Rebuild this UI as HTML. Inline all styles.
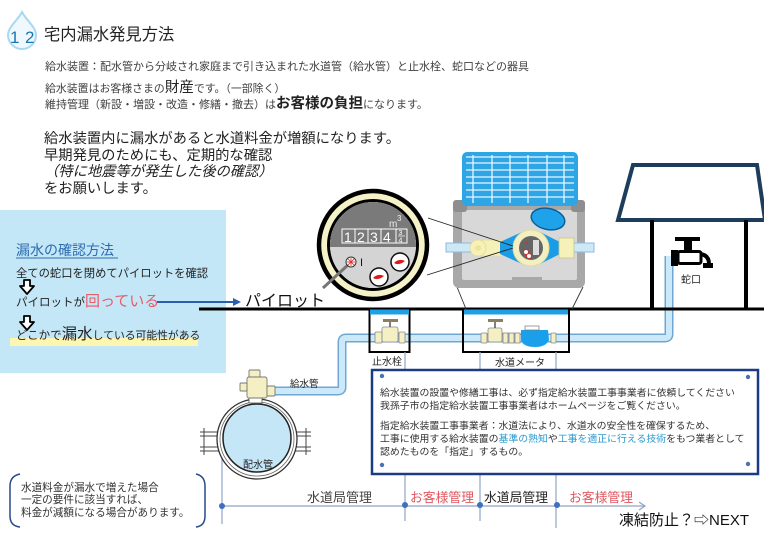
<!DOCTYPE html>
<html><head><meta charset="utf-8">
<style>
html,body{margin:0;padding:0;background:#fff;}
svg{display:block;}
text{font-family:"Liberation Sans","Noto Sans CJK JP",sans-serif;}
</style></head><body>
<svg width="764" height="540" viewBox="0 0 764 540" xmlns="http://www.w3.org/2000/svg">
<rect width="764" height="540" fill="#fff"/>

<!-- title -->
<path d="M22 12 C 18 20, 8 27, 8 35 A 14 14 0 0 0 36 35 C 36 27, 26 20, 22 12 Z" fill="#eef8fd" stroke="#a9d9f2" stroke-width="2"/>
<text x="10" y="43" font-size="17" fill="#1a78b0">1</text>
<text x="25" y="43" font-size="17" fill="#1a78b0">2</text>
<text x="44" y="40" font-size="16.3" fill="#222">宅内漏水発見方法</text>

<text x="45" y="70" font-size="11" fill="#404040">給水装置：配水管から分岐され家庭まで引き込まれた水道管（給水管）と止水栓、蛇口などの器具</text>
<text x="45" y="92" font-size="10.9" fill="#404040">給水装置はお客様さまの<tspan font-size="14.5" fill="#222">財産</tspan>です。（一部除く）</text>
<text x="45" y="108" font-size="11" fill="#404040">維持管理（新設・増設・改造・修繕・撤去）は<tspan font-size="14.5" font-weight="bold" fill="#222">お客様の負担</tspan>になります。</text>

<text x="44" y="143" font-size="14.3" fill="#222">給水装置内に漏水があると水道料金が増額になります。</text>
<text x="44" y="160" font-size="14.3" fill="#222">早期発見のためにも、定期的な確認</text>
<text x="44" y="176" font-size="14.3" fill="#222" font-style="italic">（特に地震等が発生した後の確認）</text>
<text x="44" y="193" font-size="14.3" fill="#222">をお願いします。</text>

<!-- blue box -->
<rect x="0" y="210" width="226" height="163" fill="#c4e7f8"/>
<text x="16" y="255" font-size="14" fill="#2b6cb0">漏水の確認方法</text>
<line x1="16" y1="258" x2="118" y2="258" stroke="#2b6cb0" stroke-width="1"/>
<text x="16" y="277" font-size="11.3" fill="#222">全ての蛇口を閉めてパイロットを確認</text>
<polygon points="24,280 30,280 30,286 34,286 27,294 20,286 24,286" fill="#fff" stroke="#000" stroke-width="1.8" stroke-linejoin="round"/>
<text x="16" y="306" font-size="11.5" fill="#222">パイロットが<tspan font-size="15" fill="#e85c68">回っている</tspan></text>
<polygon points="24,316 30,316 30,322 34,322 27,330 20,322 24,322" fill="#fff" stroke="#000" stroke-width="1.8" stroke-linejoin="round"/>
<rect x="10" y="338" width="188" height="8" fill="#fdf6b0"/>
<text x="16" y="339" font-size="11.5" fill="#222">どこかで<tspan font-size="15.5">漏水</tspan><tspan font-size="10.8">している可能性がある</tspan></text>

<!-- arrow to パイロット -->
<line x1="157" y1="302" x2="234" y2="302" stroke="#2a5fb0" stroke-width="2"/>
<polygon points="233,298 241,302 233,306" fill="#2a5fb0"/>
<text x="245" y="306" font-size="16" fill="#111">パイロット</text>

<!-- house -->
<polygon points="633,165 757,165 765,220 618,220" fill="#fff" stroke="#1c3d5c" stroke-width="4" stroke-linejoin="miter"/>
<line x1="652" y1="220" x2="652" y2="309" stroke="#000" stroke-width="4"/>
<line x1="746" y1="220" x2="746" y2="309" stroke="#000" stroke-width="4"/>

<!-- pipes -->
<path d="M669 256 L669 334 Q669 338 665 338 L346 338 Q342 338 342 342 L342 387 Q342 391 338 391 L270 391" fill="none" stroke="#6fa7d4" stroke-width="9" stroke-linejoin="round"/>
<path d="M669 256 L669 334 Q669 338 665 338 L346 338 Q342 338 342 342 L342 387 Q342 391 338 391 L270 391" fill="none" stroke="#cbe9f8" stroke-width="6" stroke-linejoin="round"/>

<!-- faucet -->
<rect x="675" y="237" width="25" height="4" fill="#000"/>
<rect x="684" y="241" width="8" height="10" fill="#000"/>
<rect x="671" y="250" width="7" height="16" fill="#000"/>
<rect x="678" y="251.5" width="23" height="12" rx="2" fill="#fff" stroke="#000" stroke-width="3"/>
<path d="M700 254 Q709 255 709 264" fill="none" stroke="#000" stroke-width="4"/>
<rect x="703" y="263" width="10" height="5" fill="#000"/>
<text x="681" y="283" font-size="10" fill="#222">蛇口</text>

<!-- ground line -->
<line x1="199" y1="309" x2="764" y2="309" stroke="#000" stroke-width="3"/>

<!-- meter box (above ground) -->
<line x1="457" y1="287" x2="466" y2="309" stroke="#333" stroke-width="0.9"/>
<line x1="583" y1="287" x2="572" y2="309" stroke="#333" stroke-width="0.9"/>
<rect x="453" y="200" width="132" height="88" rx="6" fill="#a8a8a8"/>
<rect x="462" y="210" width="115" height="70" rx="2" fill="#d8d8d8"/>
<rect x="512" y="277" width="30" height="5" fill="#a8a8a8"/>
<rect x="453" y="200" width="14" height="12" rx="3" fill="#8e8e8e"/>
<rect x="571" y="200" width="14" height="12" rx="3" fill="#8e8e8e"/>
<rect x="462" y="152" width="116" height="54" rx="5" fill="#2ea6e6"/>
<g stroke="#e8f6ff" stroke-width="1.3">
<line x1="473" y1="155" x2="473" y2="203"/><line x1="492" y1="155" x2="492" y2="203"/>
<line x1="510" y1="155" x2="510" y2="203"/><line x1="528" y1="155" x2="528" y2="203"/>
<line x1="547" y1="155" x2="547" y2="203"/><line x1="564" y1="155" x2="564" y2="203"/>
<line x1="466" y1="157" x2="574" y2="157"/><line x1="466" y1="163" x2="574" y2="163"/>
<line x1="466" y1="170" x2="574" y2="170"/><line x1="466" y1="177" x2="574" y2="177"/>
<line x1="466" y1="183" x2="574" y2="183"/><line x1="466" y1="190" x2="574" y2="190"/>
<line x1="466" y1="197" x2="574" y2="197"/>
</g>
<ellipse cx="548" cy="219" rx="17" ry="10.5" fill="#1ea2ea" stroke="#0d5f9a" stroke-width="1.5" transform="rotate(12 548 219)"/>
<rect x="446" y="243" width="148" height="9" fill="#cde9f8" stroke="#8bbcdc" stroke-width="1"/>
<rect x="482" y="240" width="20" height="16" fill="#f6f1b8" stroke="#e2dc9a" stroke-width="0.8"/>
<circle cx="478" cy="248" r="8" fill="#f6f1b8" stroke="#e2dc9a" stroke-width="0.8"/>
<circle cx="478" cy="248" r="3" fill="#efe49a"/>
<polygon points="500,242 522,232 522,264 500,254" fill="#1a9de6"/>
<polygon points="540,232 560,242 560,254 540,264" fill="#1a9de6"/>
<rect x="559" y="238" width="15" height="20" fill="#f6f1b8" stroke="#c8c490" stroke-width="0.8"/>
<circle cx="531" cy="248" r="18" fill="#f3efc0" stroke="#e0dca0"/>
<circle cx="531" cy="248" r="12" fill="#666"/>
<rect x="533" y="240" width="6" height="15" fill="#ddd"/>
<circle cx="526" cy="252" r="2.5" fill="#fff" stroke="#c33" stroke-width="1"/>
<circle cx="529" cy="256" r="2.5" fill="#fff" stroke="#c33" stroke-width="1"/>
<circle cx="527" cy="243" r="1" fill="#c33"/>

<!-- magnifier -->
<line x1="428" y1="218" x2="513" y2="246" stroke="#222" stroke-width="0.9"/>
<line x1="427" y1="275" x2="513" y2="248" stroke="#222" stroke-width="0.9"/>
<circle cx="373" cy="245" r="54" fill="#f6f2c8" stroke="#000" stroke-width="4.5"/>
<circle cx="373" cy="245" r="44.5" fill="none" stroke="#000" stroke-width="3"/>
<clipPath id="dial"><circle cx="373" cy="245" r="43"/></clipPath>
<g clip-path="url(#dial)">
<rect x="328" y="200" width="90" height="90" fill="#d4d4d4"/>
<rect x="328" y="200" width="90" height="47" fill="#7a7a7a"/>
</g>
<g fill="none" stroke="#fff" stroke-width="1">
<rect x="342" y="229" width="13" height="14"/><rect x="355" y="229" width="13" height="14"/>
<rect x="368" y="229" width="13" height="14"/><rect x="381" y="229" width="15" height="14"/>
<rect x="396" y="229" width="11" height="14"/>
</g>
<g fill="#fff" font-size="14">
<text x="344" y="242">1</text><text x="357" y="242">2</text><text x="370" y="242">3</text><text x="383" y="242">4</text>
</g>
<text x="398.5" y="235" font-size="7" fill="#fff">3</text>
<line x1="398" y1="236" x2="405" y2="236" stroke="#fff" stroke-width="0.7"/>
<text x="398.5" y="242.5" font-size="7" fill="#fff">4</text>
<text x="389" y="227" font-size="10" fill="#eee">m</text>
<text x="397" y="221" font-size="8" fill="#eee">3</text>
<line x1="349" y1="264" x2="323" y2="288" stroke="#777" stroke-width="3"/>
<circle cx="351" cy="262" r="5" fill="#fff" stroke="#333" stroke-width="1"/>
<g stroke="#d22" stroke-width="0.8">
<line x1="347" y1="262" x2="355" y2="262"/><line x1="351" y1="258" x2="351" y2="266"/>
<line x1="348" y1="259" x2="354" y2="265"/><line x1="354" y1="259" x2="348" y2="265"/>
</g>
<text x="360" y="266" font-size="11" fill="#111">I</text>
<circle cx="400" cy="262" r="9" fill="#fff" stroke="#111" stroke-width="1.5"/>
<path d="M394 263 Q399 258 405 261 Q399 266 394 263 Z" fill="#e01818"/>
<circle cx="379" cy="277" r="9" fill="#fff" stroke="#111" stroke-width="1.5"/>
<path d="M373 278 Q378 273 384 276 Q378 281 373 278 Z" fill="#e01818"/>

<!-- underground boxes -->
<rect x="369.5" y="310" width="40" height="42" fill="none" stroke="#000" stroke-width="2"/>
<rect x="370" y="309.5" width="39" height="5" fill="#1e9fe6"/>
<rect x="463" y="310" width="106" height="42" fill="none" stroke="#000" stroke-width="2"/>
<rect x="464" y="309.5" width="104" height="5" fill="#1e9fe6"/>

<g fill="#f4f0c4" stroke="#888" stroke-width="0.8">
<rect x="375" y="332" width="7" height="11" rx="1"/>
<rect x="382" y="327" width="16" height="15" rx="2"/>
<rect x="399" y="332" width="6" height="11" rx="1"/>
<rect x="481" y="333" width="6" height="10" rx="1"/>
<rect x="488" y="328" width="14" height="14" rx="2"/>
<rect x="503" y="333" width="5" height="10"/>
<rect x="509" y="333" width="5" height="10"/>
<rect x="515" y="333" width="5" height="10"/>
<rect x="551" y="333" width="5" height="10" rx="1"/>
</g>
<line x1="390" y1="321" x2="390" y2="327" stroke="#555" stroke-width="1.5"/>
<rect x="383" y="319" width="15" height="3" fill="#8a8060"/>
<line x1="495" y1="321" x2="495" y2="328" stroke="#555" stroke-width="1.5"/>
<rect x="488" y="319" width="15" height="3" fill="#8a8060"/>
<path d="M521 330 L548 330 L549 340 Q546 347 535 347 Q523 347 521 340 Z" fill="#1aa0ea"/>
<rect x="525" y="326" width="14" height="4" fill="#fff" stroke="#777" stroke-width="0.7"/>
<text x="372" y="365" font-size="10" fill="#222">止水栓</text>
<text x="495" y="366" font-size="10" fill="#222">水道メータ</text>

<!-- management lines -->
<g stroke="#8fa3c4" stroke-width="1.2">
<line x1="405" y1="352" x2="405" y2="521"/>
<line x1="480" y1="352" x2="480" y2="521"/>
<line x1="556" y1="352" x2="556" y2="528"/>
<line x1="222" y1="455" x2="222" y2="524"/>
<line x1="222" y1="506" x2="645" y2="506"/>
</g>
<polyline points="639,502 645,506 639,510" fill="none" stroke="#8fa3c4" stroke-width="1.2"/>
<g fill="#3d6fc2">
<circle cx="222" cy="506" r="3"/><circle cx="405" cy="505" r="3"/>
<circle cx="480" cy="505" r="3"/><circle cx="557" cy="505" r="3"/>
</g>
<text x="307" y="502" font-size="13" fill="#444">水道局管理</text>
<text x="410" y="502" font-size="12.8" fill="#e0575f">お客様管理</text>
<text x="484" y="502" font-size="12.8" fill="#222">水道局管理</text>
<text x="569" y="502" font-size="12.8" fill="#e0575f">お客様管理</text>
<text x="619" y="525" font-size="15" fill="#111">凍結防止？⇨NEXT</text>

<!-- saddle valve & distribution pipe -->
<g fill="none" stroke="#444" stroke-width="1">
<line x1="200" y1="432" x2="222" y2="432"/><line x1="200" y1="436" x2="222" y2="436"/>
<line x1="200" y1="447" x2="222" y2="447"/><line x1="200" y1="451" x2="222" y2="451"/>
<line x1="204" y1="428" x2="204" y2="455"/>
<line x1="292" y1="432" x2="311" y2="432"/><line x1="292" y1="436" x2="311" y2="436"/>
<line x1="292" y1="447" x2="311" y2="447"/><line x1="292" y1="451" x2="311" y2="451"/>
<line x1="306" y1="428" x2="306" y2="455"/>
</g>
<circle cx="257" cy="439" r="40" fill="#fff" stroke="#333" stroke-width="1.3"/>
<circle cx="257" cy="439" r="37" fill="none" stroke="#666" stroke-width="0.8"/>
<circle cx="257" cy="438" r="34" fill="#c4e6f7" stroke="#222" stroke-width="1.5"/>
<text x="243" y="468" font-size="10" fill="#222">配水管</text>
<rect x="249" y="397" width="13" height="6" fill="#fff" stroke="#555" stroke-width="0.8"/>
<g fill="#f4f0c4" stroke="#777" stroke-width="0.9">
<rect x="247" y="377" width="20" height="21" rx="2"/>
<rect x="249" y="370" width="11" height="7" rx="1"/>
<rect x="240" y="383" width="7" height="8" rx="1"/>
<rect x="267" y="386" width="8" height="10" rx="1"/>
</g>
<text x="290" y="387" font-size="9.5" fill="#222">給水管</text>

<!-- info box -->
<rect x="372" y="370" width="386" height="104" fill="#fff" stroke="#1b3c82" stroke-width="2.5"/>
<g fill="#4a70b8">
<circle cx="382" cy="376" r="2.2"/><circle cx="748" cy="377" r="2.2"/>
<circle cx="382" cy="465" r="2.2"/><circle cx="748" cy="464" r="2.2"/>
</g>
<g font-size="9.9" fill="#333">
<text x="380" y="396">給水装置の設置や修繕工事は、必ず指定給水装置工事事業者に依頼してください</text>
<text x="380" y="409">我孫子市の指定給水装置工事事業者はホームページをご覧ください。</text>
<text x="380" y="429">指定給水装置工事事業者：水道法により、水道水の安全性を確保するため、</text>
<text x="380" y="442">工事に使用する給水装置の<tspan fill="#2a9ad0">基準の熟知</tspan>や<tspan fill="#2a9ad0">工事を適正に行える技術</tspan>をもつ業者として</text>
<text x="380" y="455">認めたものを「指定」するもの。</text>
</g>

<!-- bottom-left bracket note -->
<path d="M20 474 Q10 476 10 486 L10 516 Q10 526 20 527" fill="none" stroke="#2a4a8a" stroke-width="1.5"/>
<path d="M196 474 Q205 476 205 486 L205 516 Q205 526 196 527" fill="none" stroke="#2a4a8a" stroke-width="1.5"/>
<g font-size="10.6" fill="#333">
<text x="21" y="491">水道料金が漏水で増えた場合</text>
<text x="21" y="503">一定の要件に該当すれば、</text>
<text x="21" y="516">料金が減額になる場合があります。</text>
</g>
</svg>
</body></html>
